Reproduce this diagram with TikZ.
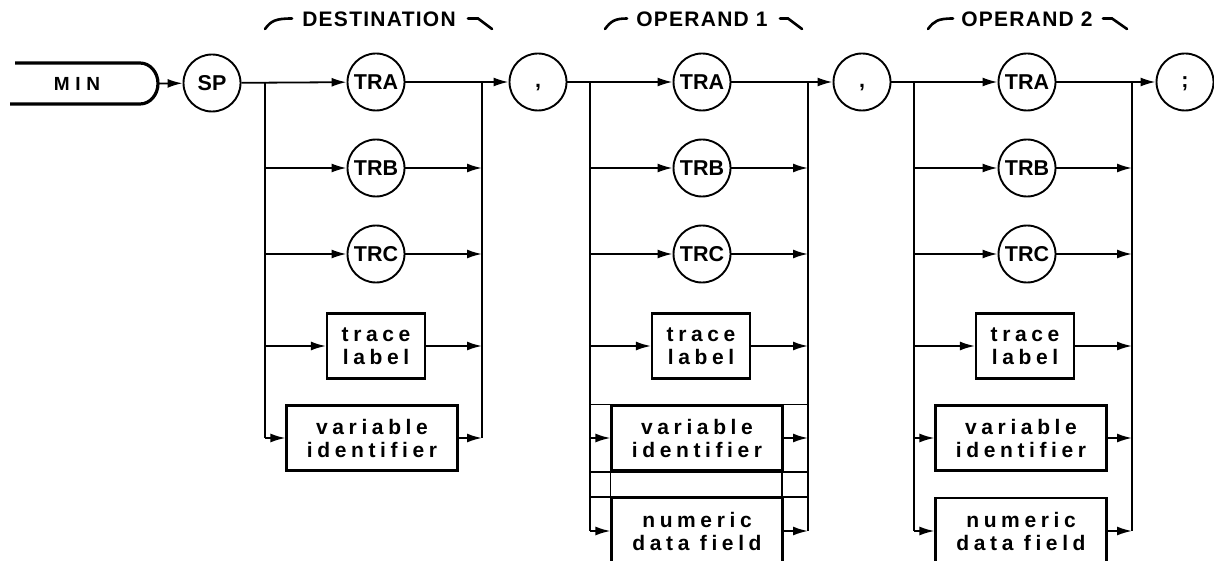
\documentclass[tikz,border=0pt]{standalone}
\usepackage{fontspec}
\setmainfont{Liberation Sans}
\newfontfamily\widefont[LetterSpace=22]{Liberation Sans}
\newfontfamily\minfont[LetterSpace=30]{Liberation Sans}
\newfontfamily\headfont[LetterSpace=6]{Liberation Sans}
\usetikzlibrary{arrows.meta}
\begin{document}
\begin{tikzpicture}[x=1pt,y=-1pt,
  term/.style={circle,draw,line width=1.9pt,minimum size=57pt,inner sep=0pt,
    font=\fontsize{21.5}{24}\selectfont\bfseries},
  boxnode/.style={draw,line width=2.2pt,inner sep=0pt,align=center,
    font=\widefont\fontsize{21}{23}\selectfont\bfseries},
  smallbox/.style={boxnode,minimum width=98pt,minimum height=65pt},
  widebox/.style={boxnode,minimum width=171pt,minimum height=65pt},
  headtext/.style={anchor=base,inner sep=0pt,font=\headfont\fontsize{21}{24}\selectfont\bfseries},
  flow/.style={line width=1.8pt,-{Latex[length=15pt,width=9pt]}},
  wire/.style={line width=1.8pt},
  bus/.style={line width=2.6pt},
  hook/.style={line width=2.6pt,line cap=round},
  minline/.style={line width=3.2pt}]
\useasboundingbox (0,0) rectangle (1214,561);
\clip (0,0) rectangle (1214,561);

% headings
\node[headtext] (hD) at (379,27) {DESTINATION};
\node[headtext] (h1) at (702,27) {OPERAND 1};
\node[headtext] (h2) at (1027,27) {OPERAND 2};
\draw[hook] (265,29) .. controls (271,21) and (275,18.5) .. (292,18.5);
\draw[hook] (468,18.5) -- (478,18.5) -- (492,29);
\draw[hook] (605,29) .. controls (611,21) and (615,18.5) .. (627,18.5);
\draw[hook] (780,18.5) -- (788,18.5) -- (802,29);
\draw[hook] (928,29) .. controls (934,21) and (938,18.5) .. (953,18.5);
\draw[hook] (1103,18.5) -- (1112,18.5) -- (1127,29);

% MIN keyword
\draw[minline] (15,63) -- (140,63) arc[start angle=-90,end angle=90,x radius=18,y radius=20.5] -- (10,104);
\coordinate (minend) at (158,83.5);
\node[inner sep=0pt,font=\minfont\fontsize{19}{21}\selectfont\bfseries] (min) at (77,84) {MIN};

% terminals
\node[term] (sp) at (212,83) {SP};
\node[term] (dA) at (376,82) {TRA};
\node[term] (dB) at (376,168) {TRB};
\node[term] (dC) at (376,254) {TRC};
\node[smallbox] (dT) at (376,346) {trace\\label};
\node[widebox] (dV) at (372,438) {variable\\identifier};
\node[term] (c1) at (538,82) {\vphantom{T},};

\node[term] (oA) at (702,82) {TRA};
\node[term] (oB) at (702,168) {TRB};
\node[term] (oC) at (702,254) {TRC};
\node[smallbox] (oT) at (701,346) {trace\\label};
\node[widebox] (oV) at (697,438) {variable\\identifier};
\node[widebox,minimum height=66pt] (oN) at (697,531) {numeric\\data field};
\node[term] (c2) at (862,82) {\vphantom{T},};

\node[term] (pA) at (1027,82) {TRA};
\node[term] (pB) at (1027,168) {TRB};
\node[term] (pC) at (1027,254) {TRC};
\node[smallbox] (pT) at (1025,346) {trace\\label};
\node[widebox] (pV) at (1021,438) {variable\\identifier};
\node[widebox,minimum height=66pt] (pN) at (1021,531) {numeric\\data field};
\node[term] (semi) at (1185,82) {\vphantom{T};};

% bus coordinates
\coordinate (dL) at (265,82);
\coordinate (dR) at (482,82);
\coordinate (oL) at (590,82);
\coordinate (oR) at (808,82);
\coordinate (pL) at (914,82);
\coordinate (pR) at (1132,82);

% connectors
\draw[flow] (minend) -- (sp);
\draw[flow] (sp) -- (dA);
\draw[flow] (dA) -- (c1);
\draw[bus] (dL) -- (dL|-dV);
\draw[bus] (dR) -- (dR|-dV);
\foreach \n in {dB,dC,dT,dV}{
  \draw[flow] (dL|-\n) -- (\n);
  \draw[flow] (\n) -- (dR|-\n);
}

\draw[flow] (c1) -- (oA);
\draw[flow] (oA) -- (c2);
\draw[bus] (oL) -- (oL|-oN);
\draw[bus] (oR) -- (oR|-oN);
\foreach \n in {oB,oC,oT,oV,oN}{
  \draw[flow] (oL|-\n) -- (\n);
  \draw[flow] (\n) -- (oR|-\n);
}
% stray lines in operand 1
\draw[wire] (oL|-oV.north) -- (oR|-oV.north);
\draw[wire] (oL|-oV.south) -- (oR|-oV.south);
\draw[wire] (oL|-oN.north) -- (oR|-oN.north);
\draw[wire] (oV.south west) -- (oN.north west);
\draw[wire] ([xshift=-2pt,yshift=4pt]oV.south east) -- ([xshift=-2pt]oN.north east);

\draw[flow] (c2) -- (pA);
\draw[flow] (pA) -- (semi);
\draw[bus] (pL) -- (pL|-pN);
\draw[bus] (pR) -- (pR|-pN);
\foreach \n in {pB,pC,pT,pV,pN}{
  \draw[flow] (pL|-\n) -- (\n);
  \draw[flow] (\n) -- (pR|-\n);
}
\end{tikzpicture}
\end{document}
